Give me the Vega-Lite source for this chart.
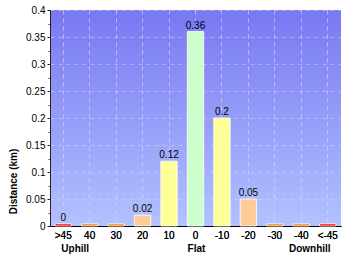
{
  "$schema": "https://vega.github.io/schema/vega-lite/v6.json",
  "autosize": "none",
  "width": 291,
  "height": 216,
  "padding": {"left": 50, "top": 10, "right": 9, "bottom": 34},
  "background": {"gradient": "linear", "x1": 0, "y1": 0, "x2": 0, "y2": 1, "stops": [{"offset": 0, "color": "#6464ff"}, {"offset": 1, "color": "#c4d6ff"}]},
  "config": {
    "view": {"stroke": null, "fill": {"gradient": "linear", "x1": 0, "y1": 0, "x2": 0, "y2": 1, "stops": [{"offset": 0, "color": "#7878f2"}, {"offset": 1, "color": "#b2c2ff"}]}},
    "font": "Liberation Sans",
    "axis": {"labelFont": "Liberation Sans", "titleFont": "Liberation Sans"}
  },
  "data": {
    "values": [
      {"grade": ">45", "km": 0.004, "label": "0", "kind": "extreme"},
      {"grade": "40", "km": 0.004, "label": "", "kind": "steep"},
      {"grade": "30", "km": 0.004, "label": "", "kind": "steep"},
      {"grade": "20", "km": 0.02, "label": "0.02", "kind": "moderate"},
      {"grade": "10", "km": 0.12, "label": "0.12", "kind": "gentle"},
      {"grade": "0", "km": 0.36, "label": "0.36", "kind": "flat"},
      {"grade": "-10", "km": 0.2, "label": "0.2", "kind": "gentle"},
      {"grade": "-20", "km": 0.05, "label": "0.05", "kind": "moderate"},
      {"grade": "-30", "km": 0.004, "label": "", "kind": "steep"},
      {"grade": "-40", "km": 0.004, "label": "", "kind": "steep"},
      {"grade": "<-45", "km": 0.004, "label": "", "kind": "extreme"}
    ]
  },
  "encoding": {
    "x": {
      "field": "grade", "type": "nominal", "sort": null,
      "scale": {"paddingInner": 0.38, "paddingOuter": 0.19},
      "axis": {
        "orient": "bottom",
        "title": null, "grid": true, "gridColor": "#d8d8f0", "gridOpacity": 0.45, "gridDash": [4, 4],
        "domainColor": "#000000", "ticks": false, "labelAngle": 0, "labelFontSize": 10, "labelColor": "#000000", "labelPadding": 4
      }
    },
    "y": {
      "field": "km", "type": "quantitative",
      "scale": {"domain": [0, 0.4], "nice": false},
      "axis": {
        "title": "Distance (km)", "titleFontSize": 10, "titleFontWeight": "bold", "titleColor": "#000000", "titlePadding": 7,
        "titleY": 171,
        "values": [0, 0.025, 0.05, 0.075, 0.1, 0.125, 0.15, 0.175, 0.2, 0.225, 0.25, 0.275, 0.3, 0.325, 0.35, 0.375, 0.4],
        "format": "~g",
        "labelExpr": "round(datum.value*40) % 2 == 1 ? '' : datum.label",
        "labelFontSize": 10, "labelColor": "#000000", "labelPadding": 2,
        "domainColor": "#222222",
        "tickColor": {"condition": {"test": "round(datum.value*40) % 2 == 1", "value": "#ff0000"}, "value": "#222222"},
        "tickSize": {"condition": {"test": "round(datum.value*40) % 2 == 1", "value": 2}, "value": 3},
        "grid": true, "gridColor": "#d8d8f0", "gridDash": [4, 4],
        "gridOpacity": {"condition": {"test": "round(datum.value*40) % 2 == 1 || datum.value == 0", "value": 0}, "value": 0.5}
      }
    }
  },
  "layer": [
    {
      "mark": {"type": "bar", "stroke": "#ffffff", "strokeWidth": 1, "strokeOpacity": 0.8},
      "encoding": {
        "color": {
          "field": "kind", "type": "nominal", "legend": null,
          "scale": {"domain": ["extreme", "steep", "moderate", "gentle", "flat"], "range": ["#ff0000", "#ff8000", "#ffcc99", "#ffff99", "#ccffcc"]}
        }
      }
    },
    {
      "mark": {"type": "text", "baseline": "bottom", "dy": -1, "fontSize": 10, "color": "#000000"},
      "encoding": {"text": {"field": "label"}}
    },
    {
      "mark": {"type": "text", "opacity": 0},
      "encoding": {
        "x": {
          "field": "grade", "type": "nominal", "sort": null,
          "axis": {
            "orient": "bottom",
            "title": null, "grid": false, "domain": false, "ticks": false, "offset": 13, "labelAngle": 0,
            "labelFontSize": 10, "labelFontWeight": "bold", "labelColor": "#000000", "labelPadding": 4,
            "labelExpr": "datum.value == '>45' ? 'Uphill' : datum.value == '0' ? 'Flat' : datum.value == '<-45' ? 'Downhill' : ''",
            "labelOffset": {"condition": [{"test": "datum.value == '>45'", "value": 12}, {"test": "datum.value == '<-45'", "value": -18}], "value": 1}
          }
        },
        "text": {"field": "label"}
      }
    }
  ],
  "resolve": {"axis": {"x": "independent"}}
}
